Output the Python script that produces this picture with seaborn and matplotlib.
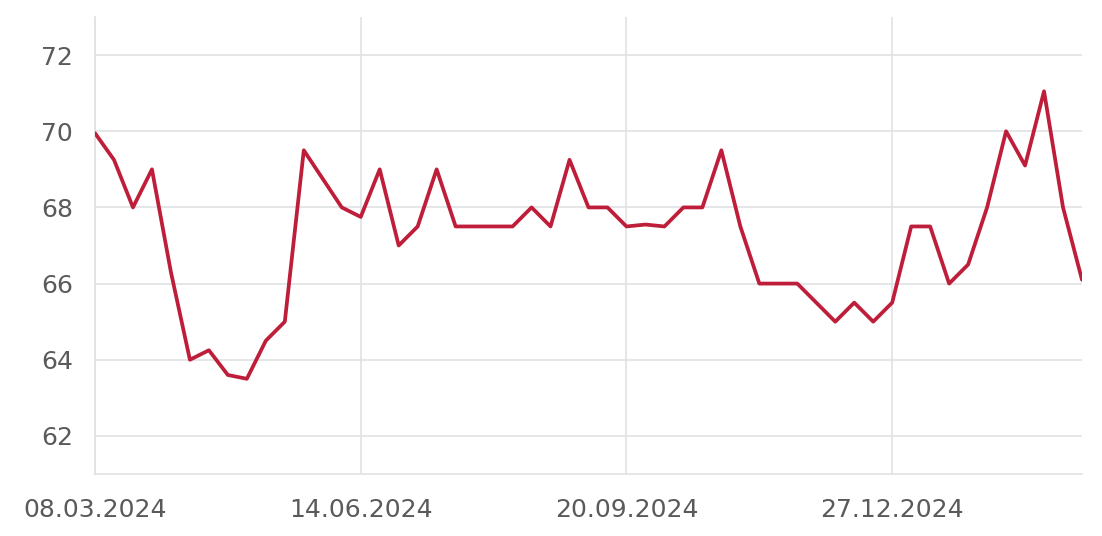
import pandas as pd
import numpy as np
import matplotlib
matplotlib.use('Agg')
import matplotlib.pyplot as plt
import seaborn as sns

# data: weekly values
start_date = '2024-03-08'
values = [69.95, 69.25, 68.0, 69.0, 66.3, 64.0, 64.25, 63.6, 63.5, 64.5,
          65.0, 69.5, 68.75, 68.0, 67.75, 69.0, 67.0, 67.5, 69.0, 67.5,
          67.5, 67.5, 67.5, 68.0, 67.5, 69.25, 68.0, 68.0, 67.5, 67.55,
          67.5, 68.0, 68.0, 69.5, 67.5, 66.0, 66.0, 66.0, 65.5, 65.0,
          65.5, 65.0, 65.5, 67.5, 67.5, 66.0, 66.5, 68.0, 70.0, 69.1,
          71.05, 68.0, 66.1]
y_ticks = [62, 64, 66, 68, 70, 72]
tick_every = 14  # weeks between x labels

dates = pd.date_range(start_date, periods=len(values), freq='7D')
df = pd.DataFrame({'date': dates, 'value': values})

grid_col = '#e0e1e4'
text_col = '#5a5a5a'
line_col = '#be1e3a'

sns.set_style('white')
plt.rcParams['font.family'] = ['DejaVu Sans']

fig = plt.figure(figsize=(11.02, 5.36), dpi=100)
ax = fig.add_axes([95 / 1102, 62 / 536, (1082 - 95) / 1102, (474 - 17) / 536])

sns.lineplot(data=df, x='date', y='value', ax=ax, color=line_col,
             linewidth=2.7, zorder=3)

ax.set_xlim(dates[0], dates[-1])
ax.set_ylim(61, 73)

x_ticks = dates[::tick_every]
ax.set_xticks(x_ticks)
ax.set_xticklabels([d.strftime('%d.%m.%Y') for d in x_ticks])
ax.set_yticks(y_ticks)
ax.set_yticklabels([str(v) for v in y_ticks])

ax.grid(True, color=grid_col, linewidth=1.2, zorder=0)
ax.tick_params(axis='both', length=11, width=1.2, color=grid_col,
               labelcolor=text_col, labelsize=18)
ax.tick_params(axis='y', pad=5)
ax.tick_params(axis='x', pad=6)

for side in ['top', 'right']:
    ax.spines[side].set_visible(False)
for side in ['left', 'bottom']:
    ax.spines[side].set_color(grid_col)
    ax.spines[side].set_linewidth(1.2)

ax.set_xlabel('')
ax.set_ylabel('')

fig.savefig('out.png', dpi=100)
plt.close()
